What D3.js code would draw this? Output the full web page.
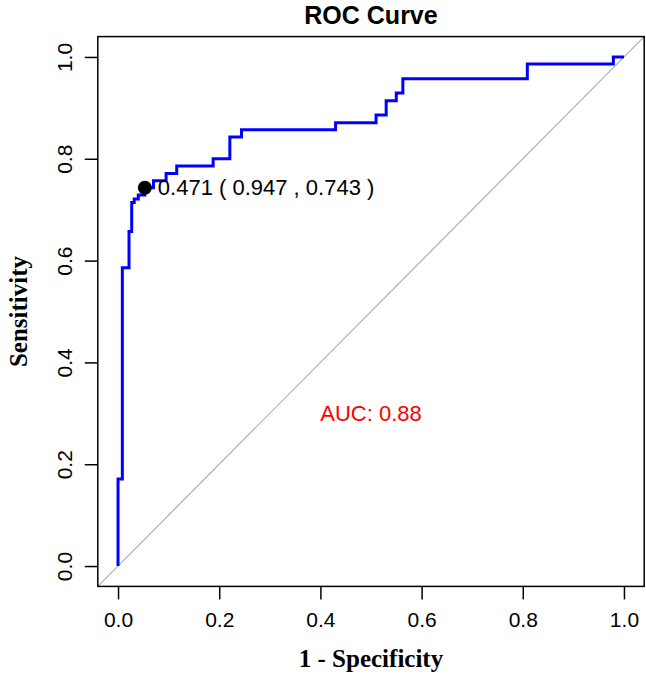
<!DOCTYPE html>
<html>
<head>
<meta charset="utf-8">
<script src="https://cdnjs.cloudflare.com/ajax/libs/d3/7.8.5/d3.min.js"></script>
<style>
  html, body { margin: 0; padding: 0; background: #fff; }
  svg { display: block; }
</style>
</head>
<body>
<div id="chart"></div>
<script>
// ROC curve: points where the curve rises (1 - specificity, sensitivity after the rise)
var fpr  = [0, 0, 0.0085, 0.0217, 0.027, 0.032, 0.040, 0.053, 0.070, 0.095, 0.116, 0.188, 0.221, 0.244,
            0.430, 0.510, 0.530, 0.550, 0.563, 0.809, 0.979, 1.0];
var sens = [0, 0.171, 0.586, 0.657, 0.714, 0.721, 0.729, 0.743, 0.757, 0.771, 0.786, 0.800, 0.843, 0.857,
            0.871, 0.886, 0.914, 0.929, 0.957, 0.986, 1.0, 1.0];
// best threshold point
var bestThres = 0.471, bestSpec = 0.947, bestSens = 0.743;
var aucValue = 0.88;
var tickVals = [0, 0.2, 0.4, 0.6, 0.8, 1.0];

var width = 646, height = 675;
var svg = d3.select('#chart').append('svg')
  .attr('width', width).attr('height', height);

//坐标范围 (R style 4% padding)
var x = d3.scaleLinear().domain([-0.04, 1.04]).range([97.8, 644.2]);
var y = d3.scaleLinear().domain([-0.04, 1.04]).range([586.4, 36.6]);

var sans = "'Liberation Sans', Arial, sans-serif";
var serif = "'Liberation Serif', 'Times New Roman', serif";

svg.append('defs').append('clipPath').attr('id', 'clip')
  .append('rect')
  .attr('x', x(-0.04)).attr('y', y(1.04))
  .attr('width', x(1.04) - x(-0.04)).attr('height', y(-0.04) - y(1.04));

//对角线
svg.append('line')
  .attr('clip-path', 'url(#clip)')
  .attr('x1', x(-0.04)).attr('y1', y(-0.04))
  .attr('x2', x(1.04)).attr('y2', y(1.04))
  .attr('stroke', '#b0b0b0').attr('stroke-width', 1.2);

//ROC曲线
var pts = fpr.map(function(d, i) { return [d, sens[i]]; });
var line = d3.line()
  .x(function(d) { return x(d[0]); })
  .y(function(d) { return y(d[1]); })
  .curve(d3.curveStepAfter);
svg.append('path')
  .datum(pts)
  .attr('d', line)
  .attr('fill', 'none')
  .attr('stroke', '#0000ff')
  .attr('stroke-width', 3);

//边框
svg.append('rect')
  .attr('x', x(-0.04)).attr('y', y(1.04))
  .attr('width', x(1.04) - x(-0.04)).attr('height', y(-0.04) - y(1.04))
  .attr('fill', 'none').attr('stroke', '#000').attr('stroke-width', 1.5);

//坐标轴
var xAxis = svg.append('g')
  .attr('transform', 'translate(0,' + y(-0.04) + ')')
  .call(d3.axisBottom(x).tickValues(tickVals).tickFormat(d3.format('.1f')).tickSize(13).tickPadding(13));
var yAxis = svg.append('g')
  .attr('transform', 'translate(' + x(-0.04) + ',0)')
  .call(d3.axisLeft(y).tickValues(tickVals).tickFormat(d3.format('.1f')).tickSize(13).tickPadding(0));
[xAxis, yAxis].forEach(function(g) {
  g.select('.domain').remove();
  g.selectAll('.tick line').attr('stroke', '#000').attr('stroke-width', 1.5);
  g.selectAll('.tick text').attr('font-family', sans).attr('font-size', 21).attr('fill', '#000');
});
yAxis.selectAll('.tick text')
  .attr('x', 0).attr('dy', null)
  .attr('text-anchor', 'middle')
  .attr('transform', 'translate(-33,0) rotate(-90)')
  .attr('dy', '0.35em');

//最佳阈值点
svg.append('circle')
  .attr('cx', x(1 - bestSpec)).attr('cy', y(bestSens)).attr('r', 7)
  .attr('fill', '#000');
svg.append('text')
  .attr('x', x(1 - bestSpec) + 13).attr('y', y(bestSens))
  .attr('dy', '0.35em')
  .attr('font-family', sans).attr('font-size', 22)
  .text(bestThres.toFixed(3) + ' ( ' + bestSpec.toFixed(3) + ' , ' + bestSens.toFixed(3) + ' )');

//AUC
svg.append('text')
  .attr('x', x(0.5)).attr('y', y(0.3))
  .attr('dy', '0.35em')
  .attr('text-anchor', 'middle')
  .attr('font-family', sans).attr('font-size', 22).attr('fill', '#ff0000')
  .text('AUC: ' + aucValue.toFixed(2));

//标题
svg.append('text')
  .attr('x', (x(-0.04) + x(1.04)) / 2).attr('y', 24)
  .attr('text-anchor', 'middle')
  .attr('font-family', sans).attr('font-size', 25).attr('font-weight', 'bold')
  .text('ROC Curve');

svg.append('text')
  .attr('x', (x(-0.04) + x(1.04)) / 2).attr('y', 667)
  .attr('text-anchor', 'middle')
  .attr('font-family', serif).attr('font-size', 25).attr('font-weight', 'bold')
  .text('1 - Specificity');

svg.append('text')
  .attr('transform', 'translate(27,' + ((y(-0.04) + y(1.04)) / 2) + ') rotate(-90)')
  .attr('text-anchor', 'middle')
  .attr('font-family', serif).attr('font-size', 25).attr('font-weight', 'bold')
  .text('Sensitivity');
</script>
</body>
</html>
